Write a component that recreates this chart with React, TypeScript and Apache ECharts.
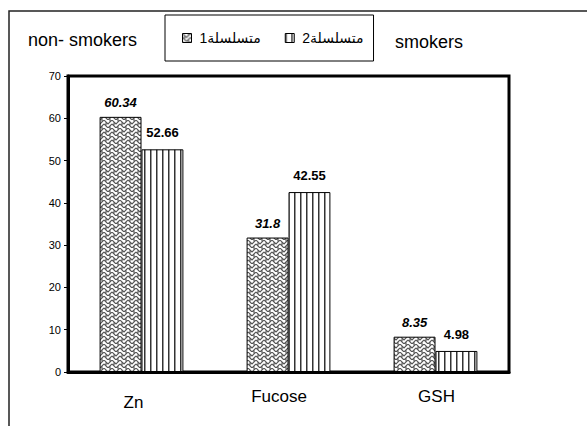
import React, { useEffect, useRef } from "react";
import * as echarts from "echarts";

// Chart data
const categories = ["Zn", "Fucose", "GSH"];
const series1Name = "متسلسلة1";
const series2Name = "متسلسلة2";
const series1Values = [60.34, 31.8, 8.35];
const series2Values = [52.66, 42.55, 4.98];
const yTicks = { min: 0, max: 70, interval: 10 };
const sideLabels = ["non- smokers", "smokers"];

const FONT = "'Liberation Sans', Arial, 'DejaVu Sans', sans-serif";

// Basket-weave style tile for the first series
function weaveTile(): string {
  const c = document.createElement("canvas");
  c.width = 8;
  c.height = 8;
  const g = c.getContext("2d")!;
  g.fillStyle = "#ffffff";
  g.fillRect(0, 0, 8, 8);
  g.strokeStyle = "#555555";
  g.lineWidth = 1.1;
  g.beginPath();
  g.moveTo(0, 0);
  g.lineTo(4, 4);
  g.lineTo(8, 0);
  g.moveTo(0, 4);
  g.lineTo(4, 8);
  g.lineTo(8, 4);
  g.moveTo(2, 2);
  g.lineTo(2, 6);
  g.moveTo(6, 6);
  g.lineTo(6, 8);
  g.moveTo(6, 0);
  g.lineTo(6, 2);
  g.stroke();
  return c.toDataURL();
}

// Vertical stripe tile for the second series
function stripeTile(): string {
  const c = document.createElement("canvas");
  c.width = 6;
  c.height = 6;
  const g = c.getContext("2d")!;
  g.fillStyle = "#ffffff";
  g.fillRect(0, 0, 6, 6);
  g.fillStyle = "#333333";
  g.fillRect(0, 0, 1.5, 6);
  return c.toDataURL();
}

// Per-category nudges of the axis labels
const catStyle = { fontSize: 17, fontFamily: FONT, color: "#000" };
const labelRich: Record<string, any> = {
  c0: { ...catStyle, padding: [6, 16, 0, 0] },
  c1: { ...catStyle, padding: [0, 19, 0, 0] },
  c2: { ...catStyle, padding: [0, 0, 0, 2] },
};

export default function App() {
  const ref = useRef<HTMLDivElement>(null);

  useEffect(() => {
    if (!ref.current) return;
    const chart = echarts.init(ref.current, undefined, { renderer: "svg" });
    const weave = { image: weaveTile(), repeat: "repeat" };
    const stripes = { image: stripeTile(), repeat: "repeat" };

    chart.setOption({
      animation: false,
      backgroundColor: "#ffffff",
      textStyle: { fontFamily: FONT },
      graphic: [
        {
          type: "rect",
          shape: { x: 9, y: 11, width: 620, height: 460 },
          style: { fill: "none", stroke: "#222", lineWidth: 1.5 },
          silent: true,
        },
        {
          type: "text",
          x: 28,
          y: 40,
          style: {
            text: sideLabels[0],
            fontSize: 18,
            fontFamily: FONT,
            fill: "#000",
            verticalAlign: "middle",
          },
        },
        {
          type: "text",
          x: 395,
          y: 42,
          style: {
            text: sideLabels[1],
            fontSize: 18,
            fontFamily: FONT,
            fill: "#000",
            verticalAlign: "middle",
          },
        },
      ],
      legend: {
        left: 165,
        top: 15,
        orient: "horizontal",
        borderColor: "#000",
        borderWidth: 1,
        padding: [16, 10, 16, 17],
        itemGap: 24,
        itemWidth: 9,
        itemHeight: 9,
        icon: "rect",
        textStyle: { fontSize: 14, fontFamily: FONT, color: "#000", padding: [0, 0, 0, 3] },
        data: [
          { name: series1Name, itemStyle: { borderColor: "#000", borderWidth: 1 } },
          { name: series2Name, itemStyle: { borderColor: "#000", borderWidth: 1 } },
        ],
      },
      grid: {
        left: 68,
        right: 78,
        top: 76,
        bottom: 54,
        show: true,
        borderColor: "#000",
        borderWidth: 3,
        backgroundColor: "#fff",
      },
      xAxis: {
        type: "category",
        data: categories,
        axisLine: { lineStyle: { color: "#000", width: 3 } },
        axisTick: { show: false },
        axisLabel: {
          margin: 16,
          formatter: (v: string) => `{c${categories.indexOf(v)}|${v}}`,
          rich: labelRich,
        },
      },
      yAxis: {
        type: "value",
        min: yTicks.min,
        max: yTicks.max,
        interval: yTicks.interval,
        splitLine: { show: false },
        axisLine: { show: true, lineStyle: { color: "#000", width: 3 } },
        axisTick: { show: true, length: 4, lineStyle: { color: "#000", width: 1 } },
        axisLabel: { fontSize: 11, color: "#000", fontFamily: FONT, margin: 7 },
      },
      series: [
        {
          name: series1Name,
          type: "bar",
          data: series1Values,
          barCategoryGap: "43%",
          barGap: "0%",
          itemStyle: { color: weave, borderColor: "#000", borderWidth: 1 },
          label: {
            show: true,
            position: "top",
            distance: 8,
            fontSize: 13,
            fontWeight: "bold",
            fontStyle: "italic",
            color: "#000",
            fontFamily: FONT,
          },
        },
        {
          name: series2Name,
          type: "bar",
          data: series2Values,
          barCategoryGap: "43%",
          barGap: "0%",
          itemStyle: { color: stripes, borderColor: "#000", borderWidth: 1 },
          label: {
            show: true,
            position: "top",
            distance: 10,
            fontSize: 13,
            fontWeight: "bold",
            color: "#000",
            fontFamily: FONT,
          },
        },
      ],
    });
    return () => chart.dispose();
  }, []);

  return (
    <div
      ref={ref}
      style={{ position: "fixed", left: 0, top: 0, width: 587, height: 426 }}
    />
  );
}
